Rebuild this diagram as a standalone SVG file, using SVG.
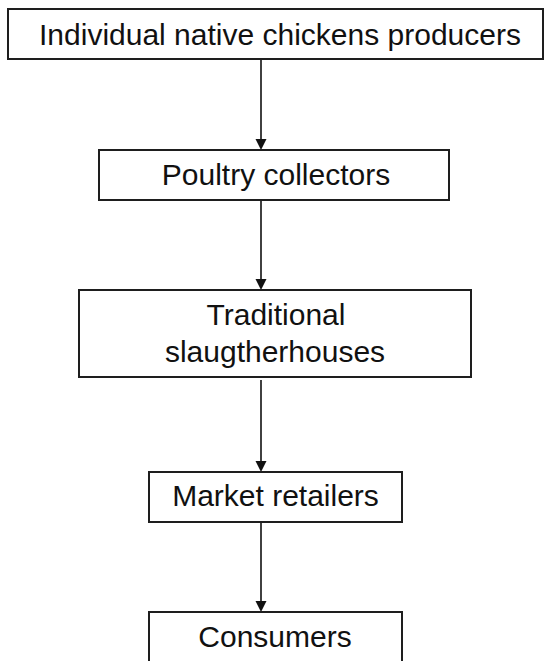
<svg xmlns="http://www.w3.org/2000/svg" width="547" height="661" viewBox="0 0 547 661">
<style>
.box{fill:#fff;stroke:#1e1e1e;stroke-width:2}
.lbl{font-family:"Liberation Sans",Arial,sans-serif;font-size:30px;fill:#111;text-anchor:middle}
.con{stroke:#111;stroke-width:1.6;fill:none}
.head{fill:#111}
</style>
<defs>
<path id="ah" d="M-5.5,-11 L5.5,-11 L0,0 Z"/>
</defs>
<rect width="547" height="661" fill="#fff"/>
<g id="connectors">
<path class="con" d="M261,60 V141"/>
<use href="#ah" class="head" x="261" y="150"/>
<path class="con" d="M261,201 V281"/>
<use href="#ah" class="head" x="261" y="290"/>
<path class="con" d="M261,380 V463"/>
<use href="#ah" class="head" x="261" y="472"/>
<path class="con" d="M261,523 V603"/>
<use href="#ah" class="head" x="261" y="612"/>
</g>
<g id="producers">
<rect class="box" x="8" y="9" width="535" height="50"/>
<text class="lbl" x="280" y="45">Individual native chickens producers</text>
</g>
<g id="collectors">
<rect class="box" x="99" y="150" width="350" height="50"/>
<text class="lbl" x="276" y="185">Poultry collectors</text>
</g>
<g id="slaughterhouses">
<rect class="box" x="79" y="290" width="392" height="87"/>
<text class="lbl" x="276" y="325">Traditional</text>
<text class="lbl" x="275" y="362">slaugtherhouses</text>
</g>
<g id="retailers">
<rect class="box" x="149" y="472" width="253" height="50"/>
<text class="lbl" x="275.5" y="506">Market retailers</text>
</g>
<g id="consumers">
<rect class="box" x="149" y="612" width="253" height="60"/>
<text class="lbl" x="275" y="647">Consumers</text>
</g>
</svg>
